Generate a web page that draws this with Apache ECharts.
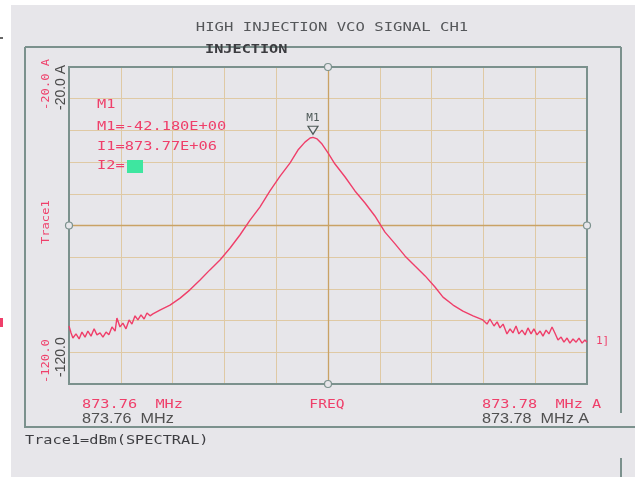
<!DOCTYPE html>
<html><head><meta charset="utf-8">
<script src="https://cdn.jsdelivr.net/npm/echarts@6/dist/echarts.min.js"></script>
<style>
html,body{margin:0;padding:0;background:#fff;}
#wrap{position:relative;width:635px;height:477px;background:#fff;overflow:hidden;}
#bg{position:absolute;left:11px;top:5px;right:0;bottom:0;background:#e7e6ea;}
#chart{position:absolute;left:0;top:0;width:635px;height:477px;}
</style></head><body>
<div id="wrap"><div id="bg"></div><div id="chart"></div></div>
<script>
// ---- data ----
const startFreqMHz = 873.76;
const stopFreqMHz = 873.78;
const freqMHz = [
 873.76000,873.76008,873.76015,873.76027,873.76039,873.76050,873.76062,873.76073,873.76085,873.76097,
 873.76108,873.76120,873.76131,873.76143,873.76154,873.76166,873.76178,873.76185,873.76197,873.76208,
 873.76220,873.76232,873.76243,873.76255,873.76266,873.76278,873.76290,873.76301,873.76313,873.76324,
 873.76351,873.76390,873.76429,873.76467,873.76506,873.76544,873.76583,873.76622,873.76660,873.76699,
 873.76737,873.76776,873.76815,873.76853,873.76884,873.76911,873.76931,873.76942,873.76958,873.76977,
 873.77000,873.77027,873.77066,873.77104,873.77143,873.77181,873.77220,873.77259,873.77297,873.77336,
 873.77375,873.77413,873.77444,873.77483,873.77521,873.77560,873.77598,873.77614,873.77625,873.77641,
 873.77653,873.77664,873.77676,873.77691,873.77703,873.77714,873.77726,873.77737,873.77749,873.77761,
 873.77772,873.77784,873.77795,873.77807,873.77819,873.77830,873.77842,873.77853,873.77865,873.77876,
 873.77888,873.77900,873.77911,873.77923,873.77934,873.77946,873.77958,873.77969,873.77981,873.77992,
 873.78000
];
const traceDbm = [
 -101.7,-103.9,-105.5,-104.2,-105.8,-103.6,-105.2,-103.3,-104.9,-102.6,
 -104.5,-103.9,-105.2,-103.6,-104.5,-102.0,-103.3,-99.2,-102.0,-100.8,
 -102.6,-99.8,-101.1,-98.5,-99.8,-98.2,-99.5,-97.6,-98.5,-97.9,
 -96.7,-95.1,-92.9,-90.3,-87.2,-84.0,-80.9,-77.1,-73.0,-68.3,
 -64.2,-59.1,-54.4,-50.3,-46.2,-43.7,-42.4,-42.18,-42.7,-44.3,
 -47.1,-50.6,-54.7,-59.1,-62.9,-67.0,-72.1,-75.8,-79.6,-82.8,
 -85.9,-89.4,-92.6,-95.1,-97.0,-98.5,-99.8,-101.1,-99.5,-101.7,
 -100.4,-102.3,-101.1,-104.2,-102.6,-103.9,-101.7,-104.2,-103.0,-104.5,
 -102.3,-104.2,-102.6,-104.5,-103.3,-104.9,-103.0,-104.2,-102.0,-103.9,
 -106.1,-105.2,-106.8,-105.5,-107.1,-105.8,-106.8,-105.5,-107.1,-106.1,
 -106.8
];
const refLevel = -20.0;
const bottomLevel = -120.0;
const divDb = 10;
const markerName = 'M1';
const markerFreqMHz = 873.76942;
const markerDbm = -42.18;
const yTickLabels = ['-20.0 A', '-120.0'];
const xTickLabels = ['873.76', '873.78'];
const titleText = 'HIGH INJECTION VCO SIGNAL CH1';
const subTitleText = 'INJECTION';
const readout = ['M1', 'M1=-42.180E+00', 'I1=873.77E+06', 'I2='];
const traceName = 'Trace1';
const traceUnitText = 'Trace1=dBm(SPECTRAL)';

// ---- chart ----
const toKHz = f => (f - startFreqMHz) * 1000;
const spanKHz = (stopFreqMHz - startFreqMHz) * 1000;
const seriesData = freqMHz.map((f, i) => [toKHz(f), traceDbm[i]]);

const RED = '#ef3f6a';
const DARK = '#4e4e52';
const FRAME = '#7b918d';
const GRIDC = '#dfc9a4';
const GRIDC2 = '#c9a265';
const BG = '#e7e6ea';
const MONO = '"DejaVu Sans Mono", monospace';
const SANS = '"Liberation Sans", Arial, sans-serif';

function txt(text, x, y, o) {
  o = o || {};
  return {
    type: 'text', x: x, y: y, z: 100, silent: true,
    scaleX: o.sx || 1, rotation: o.rot || 0,
    style: {
      text: text, fill: o.fill || DARK,
      font: (o.weight ? o.weight + ' ' : '') + (o.size || 12) + 'px ' + (o.family || MONO),
      align: o.align || 'left', verticalAlign: 'middle'
    }
  };
}
function line(x1, y1, x2, y2, c, w) {
  return { type: 'line', z: 50, silent: true, shape: { x1, y1, x2, y2 }, style: { stroke: c || FRAME, lineWidth: w || 2 } };
}

const graphics = [
  // outer frame
  line(25, 47, 621, 47), line(25, 47, 25, 427), line(621, 47, 621, 413),
  line(24, 427, 635, 427), line(621, 458, 621, 477),
  // tiny edge marks
  { type: 'rect', z: 50, silent: true, shape: { x: 0, y: 318, width: 3, height: 9 }, style: { fill: RED } },
  { type: 'rect', z: 50, silent: true, shape: { x: 0, y: 37, width: 3, height: 2 }, style: { fill: '#666' } },
  // titles
  txt(titleText, 332, 28, { align: 'center', size: 13, sx: 1.2, fill: '#55575a' }),
  txt(subTitleText, 205, 50, { size: 13, sx: 1.17, fill: '#3c3c40', weight: 'bold' }),
  // marker readout
  txt(readout[0], 97, 105, { fill: RED, size: 13, sx: 1.18 }),
  txt(readout[1], 97, 127, { fill: RED, size: 13, sx: 1.18 }),
  txt(readout[2], 97, 147, { fill: RED, size: 13, sx: 1.18 }),
  txt(readout[3], 97, 166, { fill: RED, size: 13, sx: 1.18 }),
  { type: 'rect', z: 100, silent: true, shape: { x: 127, y: 160, width: 16, height: 13 }, style: { fill: '#3ee6a0' } },
  // y labels (rotated)
  txt(yTickLabels[0], 46, 110, { fill: RED, size: 11, sx: 1.1, rot: Math.PI / 2 }),
  txt(yTickLabels[0], 61, 110, { fill: '#4a4a4a', size: 14, family: SANS, rot: Math.PI / 2 }),
  txt(yTickLabels[1], 46, 383, { fill: RED, size: 11, sx: 1.1, rot: Math.PI / 2 }),
  txt(yTickLabels[1], 61, 377, { fill: '#4a4a4a', size: 14, family: SANS, rot: Math.PI / 2 }),
  txt(traceName, 46, 244, { fill: RED, size: 11, sx: 1.1, rot: Math.PI / 2 }),
  // x labels
  txt(xTickLabels[0] + '  MHz', 82, 405, { fill: RED, size: 12, sx: 1.27 }),
  txt(xTickLabels[0] + '  MHz', 82, 419, { fill: '#505050', size: 15, family: SANS, sx: 1.08 }),
  txt('FREQ', 327, 405, { fill: RED, size: 12, sx: 1.22, align: 'center' }),
  txt(xTickLabels[1] + '  MHz A', 482, 405, { fill: RED, size: 12, sx: 1.27 }),
  txt(xTickLabels[1] + '  MHz A', 482, 419, { fill: '#505050', size: 15, family: SANS, sx: 1.08 }),
  txt('1]', 596, 341, { fill: RED, size: 11 }),
  // bottom trace info
  txt(traceUnitText, 25, 441, { size: 12, sx: 1.27, fill: '#3e3e42' })
];

const chart = echarts.init(document.getElementById('chart'), null, { renderer: 'canvas' });
chart.setOption({
  animation: false,
  backgroundColor: 'transparent',
  grid: { left: 69, top: 67, width: 518, height: 317, show: true, borderColor: FRAME, borderWidth: 2, backgroundColor: 'transparent', z: 3 },
  xAxis: {
    type: 'value', min: 0, max: spanKHz, interval: spanKHz / 10,
    axisLine: { show: false }, axisTick: { show: false }, axisLabel: { show: false },
    splitLine: { show: true, lineStyle: { color: GRIDC, width: 1 } }
  },
  yAxis: {
    type: 'value', min: bottomLevel, max: refLevel, interval: divDb,
    axisLine: { show: false }, axisTick: { show: false }, axisLabel: { show: false },
    splitLine: { show: true, lineStyle: { color: GRIDC, width: 1 } }
  },
  series: [
    {
      type: 'line', data: [], silent: true, z: 1,
      markLine: {
        silent: true, symbol: ['none', 'none'], label: { show: false },
        lineStyle: { color: GRIDC2, width: 1.3, type: 'solid' },
        data: [{ xAxis: spanKHz / 2 }, { yAxis: (refLevel + bottomLevel) / 2 }]
      }
    },
    {
      type: 'line', data: seriesData, showSymbol: false, z: 5,
      lineStyle: { color: RED, width: 1.4 }, itemStyle: { color: RED },
      markPoint: {
        silent: true,
        data: [{ coord: [toKHz(markerFreqMHz), markerDbm], name: markerName }],
        symbol: 'triangle', symbolSize: [10, 8], symbolRotate: 180, symbolOffset: [0, -7],
        itemStyle: { color: BG, borderColor: '#4e5a58', borderWidth: 1.2 },
        label: { show: true, position: 'top', distance: 2, formatter: markerName, color: '#4e5a58', fontFamily: MONO, fontSize: 11 }
      }
    }
  ],
  graphic: graphics
});

// small reference circles on the graticule edges (positions from the axes)
const pts = [[spanKHz / 2, refLevel], [spanKHz / 2, bottomLevel], [0, (refLevel + bottomLevel) / 2], [spanKHz, (refLevel + bottomLevel) / 2]];
const circles = pts.map(p => {
  const px = chart.convertToPixel({ gridIndex: 0 }, p);
  return { type: 'circle', z: 60, silent: true, shape: { cx: px[0], cy: px[1], r: 3.5 }, style: { fill: BG, stroke: FRAME, lineWidth: 1.2 } };
});
chart.setOption({ graphic: graphics.concat(circles) });
</script>
</body></html>
